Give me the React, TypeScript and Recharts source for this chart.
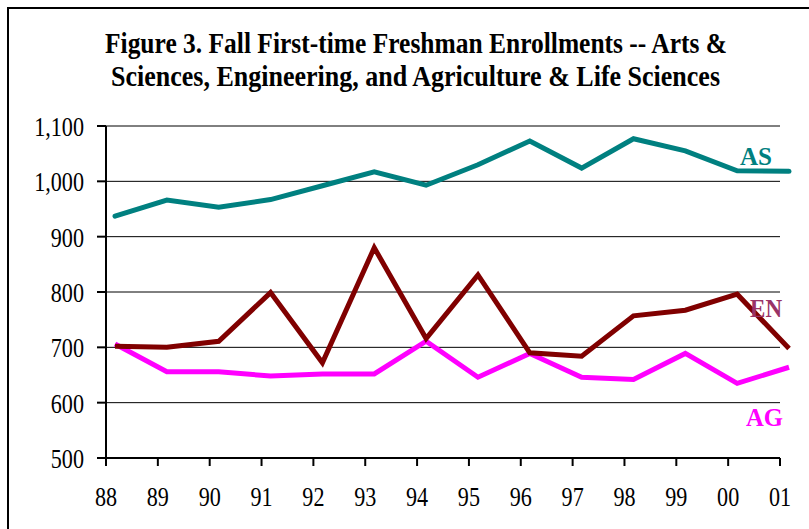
import React from 'react';
import { LineChart, Line, XAxis, YAxis, ReferenceLine, LabelList } from 'recharts';

const years = ['88', '89', '90', '91', '92', '93', '94', '95', '96', '97', '98', '99', '00', '01'];
const asValues = [937, 966, 953, 967, 992, 1017, 993, 1030, 1073, 1024, 1077, 1055, 1019, 1018];
const enValues = [702, 700, 711, 799, 672, 880, 716, 831, 690, 684, 757, 767, 796, 698];
const agValues = [706, 656, 656, 648, 652, 652, 711, 646, 689, 646, 642, 689, 635, 664];
const yTicks = [500, 600, 700, 800, 900, 1000, 1100];
const gridValues = [600, 700, 800, 900, 1000, 1100];
const titleLines = [
  'Figure 3. Fall First-time Freshman Enrollments -- Arts &',
  'Sciences, Engineering, and Agriculture & Life Sciences',
];

const data = years.map((year, i) => ({ i, year, AS: asValues[i], EN: enValues[i], AG: agValues[i] }));

const FONT = '"Liberation Serif", "Times New Roman", serif';
const TITLE_VSCALE = 1.16;

const XTick = (props: any) => {
  const { x, y, payload } = props;
  return (
    <g transform={`translate(${x},${y})`}>
      <text transform="scale(0.82,1)" x={0} y={0} dy={40} textAnchor="middle" fontFamily={FONT} fontSize={27} fill="#000">
        {years[payload.value]}
      </text>
    </g>
  );
};

const YTick = (props: any) => {
  const { x, y, payload } = props;
  return (
    <g transform={`translate(${x},${y})`}>
      <text transform="scale(0.82,1)" x={0} y={0} dy={10} textAnchor="end" fontFamily={FONT} fontSize={27} fill="#000">
        {Number(payload.value).toLocaleString('en-US')}
      </text>
    </g>
  );
};

const makeEndLabel = (text: string, color: string, dx: number, dy: number, len: number) => (props: any) => {
  const { x, y, index } = props;
  if (index !== years.length - 1) return null;
  return (
    <text x={x + dx} y={y + dy} textAnchor="end" fontFamily={FONT} fontWeight="bold" fontSize={26} fill={color}
      textLength={len} lengthAdjust="spacingAndGlyphs">
      {text}
    </text>
  );
};

export default function App() {
  return (
    <div style={{ position: 'absolute', left: 0, top: 0, width: 809, height: 529, overflow: 'hidden', background: '#fff' }}>
      <div style={{ position: 'absolute', left: 7, top: 7, width: 840, height: 560, border: '2px solid #000', boxSizing: 'border-box' }} />
      <svg width={809} height={110} style={{ position: 'absolute', left: 0, top: 0 }}>
        <g transform={`scale(1,${TITLE_VSCALE})`}>
          <text x={416} y={53 / TITLE_VSCALE} textAnchor="middle" fontFamily={FONT} fontWeight="bold" fontSize={25} fill="#000"
            textLength={622} lengthAdjust="spacingAndGlyphs">{titleLines[0]}</text>
          <text x={415.5} y={86 / TITLE_VSCALE} textAnchor="middle" fontFamily={FONT} fontWeight="bold" fontSize={25} fill="#000"
            textLength={609} lengthAdjust="spacingAndGlyphs">{titleLines[1]}</text>
        </g>
      </svg>
      <div style={{ position: 'absolute', left: 0, top: 0 }}>
        <LineChart width={809} height={529} data={data} margin={{ top: 126, right: 18, bottom: 31, left: 0 }}>
          <XAxis xAxisId="lbl" type="number" dataKey="i" domain={[0, 13.212]} ticks={years.map((_, i) => i)}
            axisLine={false} tickLine={{ stroke: '#000', strokeWidth: 2 }} tickSize={8} tickMargin={0}
            height={40} tick={<XTick />} interval={0} />
          <YAxis type="number" domain={[500, 1100]} ticks={yTicks} width={106} interval={0}
            axisLine={{ stroke: '#000', strokeWidth: 2 }} tickLine={{ stroke: '#000', strokeWidth: 2 }}
            tickSize={9} tickMargin={13} tick={<YTick />} />
          <XAxis xAxisId="data" type="number" dataKey="i" domain={[-0.174, 13.038]} hide height={0} />
          {gridValues.map((v) => (
            <ReferenceLine key={v} xAxisId="lbl" segment={[{ x: 0, y: v }, { x: 13, y: v }]} stroke="#000" strokeWidth={1} ifOverflow="visible" />
          ))}
          <ReferenceLine xAxisId="lbl" segment={[{ x: 0, y: 500 }, { x: 13, y: 500 }]} stroke="#000" strokeWidth={2} ifOverflow="visible" />
          <Line xAxisId="data" dataKey="AG" stroke="#FF00FF" strokeWidth={5} dot={false} isAnimationActive={false}>
            <LabelList dataKey="AG" content={makeEndLabel('AG', '#FF00FF', -6, 59, 37)} />
          </Line>
          <Line xAxisId="data" dataKey="EN" stroke="#800000" strokeWidth={5} dot={false} isAnimationActive={false}>
            <LabelList dataKey="EN" content={makeEndLabel('EN', '#993366', -7, -31, 32)} />
          </Line>
          <Line xAxisId="data" dataKey="AS" stroke="#008080" strokeWidth={5} dot={false} isAnimationActive={false} strokeLinecap="round">
            <LabelList dataKey="AS" content={makeEndLabel('AS', '#008080', -17, -6, 32)} />
          </Line>
        </LineChart>
      </div>
    </div>
  );
}
